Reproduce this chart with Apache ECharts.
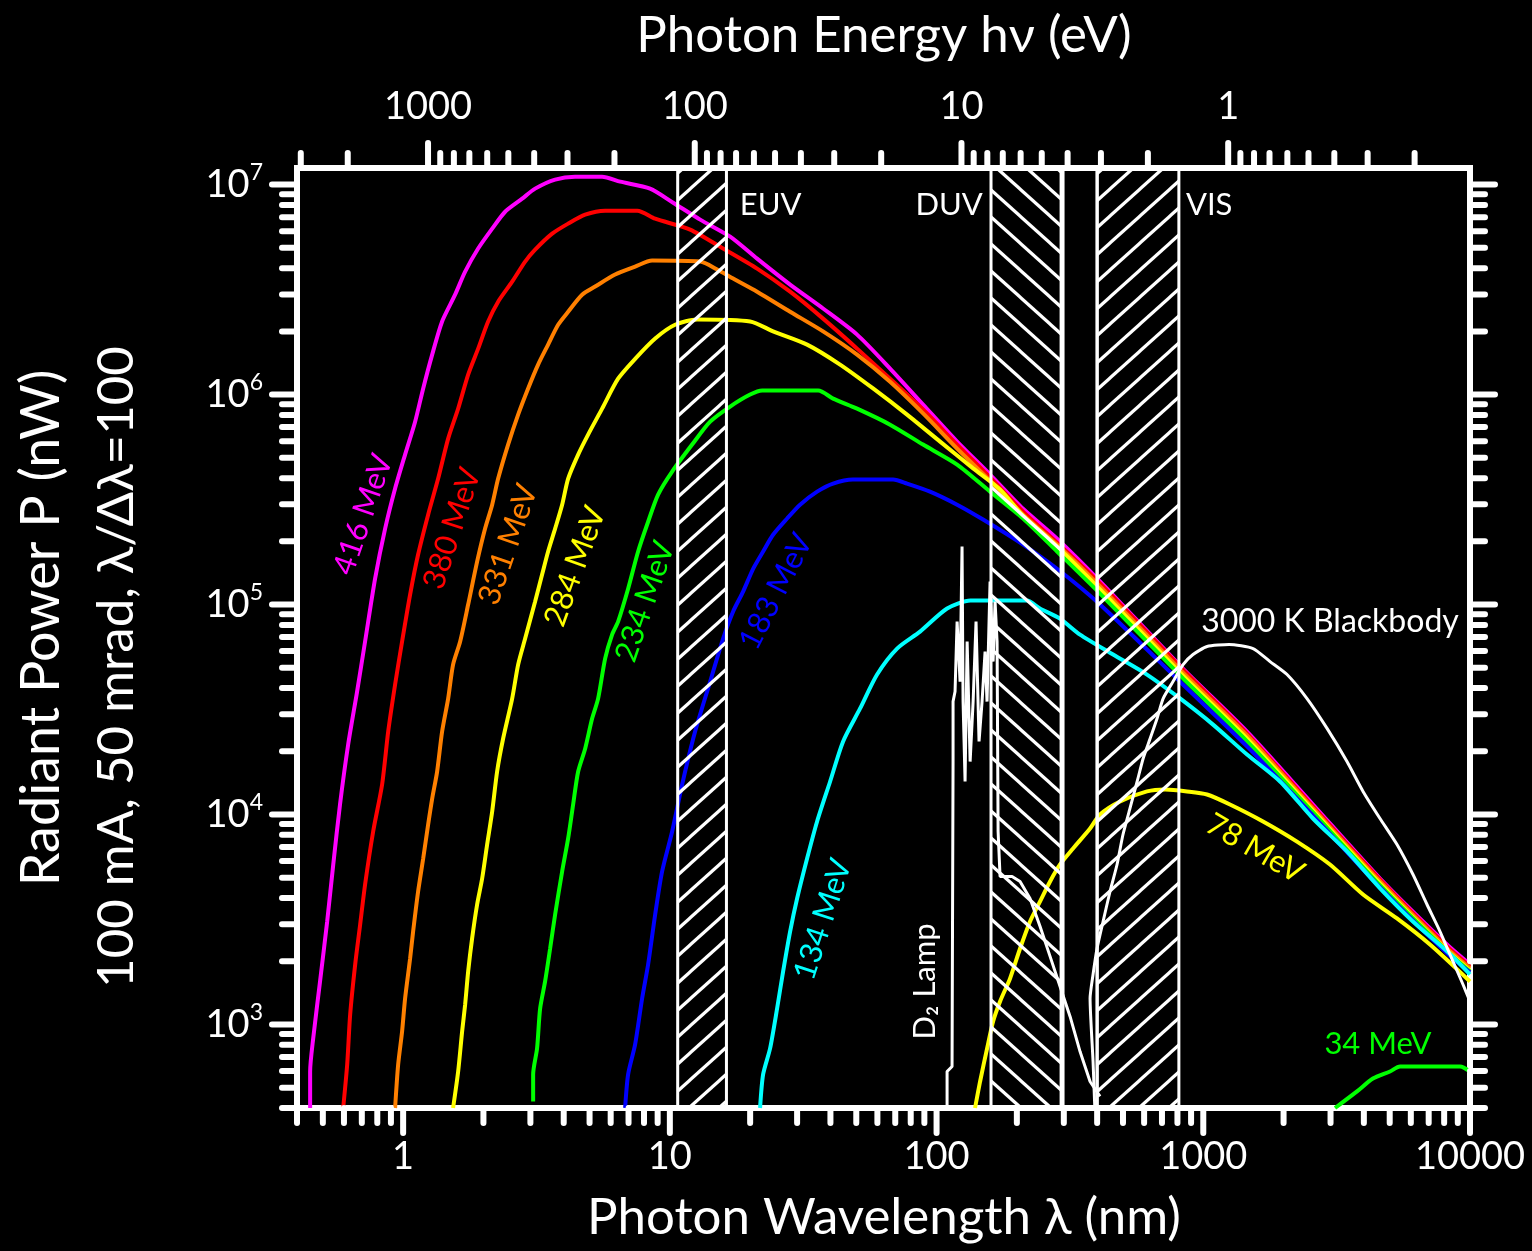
<!DOCTYPE html>
<html>
<head>
<meta charset="utf-8">
<script src="https://cdn.jsdelivr.net/npm/echarts@6/dist/echarts.min.js"></script>
<style>
html,body{margin:0;padding:0;background:#000;}
#c{width:1532px;height:1251px;}
</style>
</head>
<body>
<div id="c"></div>
<script>
// ---------- axis ranges ----------
const X_MIN = 0.4, X_MAX = 10000;          // photon wavelength (nm)
const Y_MIN = 400, Y_MAX = 1.2e7;          // radiant power (nW)
const HC = 1239.84;                         // eV*nm
const E_MIN = HC / X_MAX, E_MAX = HC / X_MIN;

// ---------- data: [wavelength nm, power nW] ----------
const mev416 = [[0.448,400],[0.448,597],[0.460,858],[0.488,1600],[0.519,3090],[0.547,5780],[0.580,11200],[0.622,21500],[0.672,38500],[0.720,66700],[0.785,133000],[0.856,230000],[0.933,357000],[1.017,518000],[1.109,743000],[1.189,1.07e6],[1.285,1.55e6],[1.400,2.23e6],[1.566,2.99e6],[1.708,3.85e6],[1.911,4.96e6],[2.157,6.17e6],[2.412,7.43e6],[2.794,8.57e6],[3.125,9.57e6],[3.714,1.057e7],[4.41,1.09e7],[5.57,1.09e7],[6.51,1.033e7],[8.43,9.57e6],[10.29,8.2e6],[12.99,6.81e6],[16.83,5.65e6],[21.24,4.44e6],[28.24,3.34e6],[37.54,2.57e6],[50.35,1.93e6],[66.95,1.33e6],[89.0,8.96e5],[119.4,5.97e5],[158.7,4.16e5],[211,2.86e5],[283,2.06e5],[410,1.29e5],[839,4.95e4],[1459,2.48e4],[2578,1.116e4],[4600,4954],[8200,2403],[10000,1931]];
const mev380 = [[0.596,400],[0.617,645],[0.633,1116],[0.661,1931],[0.690,2993],[0.720,4640],[0.772,8300],[0.834,13900],[0.879,24840],[0.933,41600],[0.991,66700],[1.062,111600],[1.138,173000],[1.241,268000],[1.353,398000],[1.475,617000],[1.608,857000],[1.753,1.245e6],[1.911,1.655e6],[2.083,2.23e6],[2.271,2.77e6],[2.563,3.45e6],[2.867,4.30e6],[3.125,4.90e6],[3.620,5.84e6],[4.156,6.52e6],[4.813,7.19e6],[5.72,7.51e6],[7.55,7.51e6],[8.81,6.88e6],[11.91,6.11e6],[15.84,4.96e6],[21.24,3.98e6],[28.24,3.09e6],[37.54,2.30e6],[50.35,1.655e6],[66.95,1.19e6],[89.0,8.49e5],[119.4,5.78e5],[158.7,4.03e5],[211,2.77e5],[283,1.97e5],[410,1.26e5],[839,4.90e4],[1459,2.43e4],[2578,1.09e4],[4600,4898],[8200,2350],[10000,1888]];
const mev331 = [[0.933,400],[0.958,645],[0.991,926],[1.017,1330],[1.062,2061],[1.090,2771],[1.138,4298],[1.189,6170],[1.241,8957],[1.285,11900],[1.341,16000],[1.400,24840],[1.475,35650],[1.539,51760],[1.636,66700],[1.753,1.0e5],[1.894,1.60e5],[2.029,2.30e5],[2.157,2.99e5],[2.271,3.98e5],[2.475,5.78e5],[2.699,8.03e5],[2.942,1.07e6],[3.207,1.39e6],[3.496,1.73e6],[3.812,2.15e6],[4.156,2.48e6],[4.688,2.99e6],[5.246,3.27e6],[6.233,3.73e6],[7.41,4.07e6],[8.58,4.35e6],[12.99,4.30e6],[15.04,3.94e6],[17.27,3.57e6],[21.24,3.09e6],[28.24,2.48e6],[37.54,2.0e6],[50.35,1.55e6],[66.95,1.15e6],[89.0,8.13e5],[119.4,5.53e5],[158.7,3.89e5],[211,2.68e5],[283,1.93e5],[410,1.22e5],[839,4.74e4],[1459,2.38e4],[2578,1.069e4],[4600,4796],[8200,2300],[10000,1849]];
const mev284 = [[1.539,400],[1.608,597],[1.664,926],[1.708,1245],[1.753,1786],[1.814,2570],[1.894,3727],[1.978,4954],[2.065,7195],[2.157,10330],[2.251,16030],[2.371,23010],[2.563,35650],[2.699,51760],[2.867,68870],[3.125,1.033e5],[3.319,1.39e5],[3.496,1.79e5],[3.714,2.30e5],[3.946,2.99e5],[4.156,3.98e5],[4.531,5.18e5],[4.938,6.45e5],[5.572,8.57e5],[6.397,1.19e6],[7.41,1.48e6],[8.81,1.85e6],[10.46,2.15e6],[12.66,2.28e6],[20.0,2.23e6],[24.38,2.0e6],[32.70,1.73e6],[43.47,1.39e6],[57.8,1.07e6],[77.5,8.03e5],[103.1,5.97e5],[137.1,4.45e5],[173.0,3.53e5],[211,2.65e5],[283,1.89e5],[410,1.18e5],[839,4.59e4],[1459,2.30e4],[2578,1.045e4],[4600,4690],[8200,2250],[10000,1807]];
const mev234 = [[3.072,430],[3.072,578],[3.178,769],[3.263,1191],[3.406,1603],[3.557,2300],[3.714,3341],[3.946,5354],[4.156,7690],[4.339,11160],[4.531,16030],[4.813,20590],[5.111,28630],[5.383,35650],[5.719,55300],[6.074,71950],[6.397,82950],[6.975,1.19e5],[7.603,1.79e5],[8.289,2.48e5],[9.036,3.34e5],[10.20,4.30e5],[12.12,5.78e5],[14.16,7.43e5],[16.83,8.77e5],[20.0,1.0e6],[22.2,1.045e6],[36.0,1.045e6],[40.93,9.57e5],[50.35,8.57e5],[66.95,7.19e5],[89.0,5.78e5],[119.4,4.64e5],[158.7,3.45e5],[211,2.57e5],[283,1.79e5],[410,1.128e5],[839,4.45e4],[1459,2.23e4],[2578,1.023e4],[4600,4590],[8200,2230],[10000,1786]];
const mev183 = [[6.797,400],[6.975,578],[7.41,803],[7.870,1330],[8.289,1931],[8.81,3341],[9.354,5354],[10.20,8300],[11.12,13900],[12.4,24500],[14.16,42950],[15.84,68870],[17.27,92680],[18.82,1.153e5],[20.52,1.48e5],[22.37,1.79e5],[24.38,2.15e5],[27.52,2.57e5],[30.78,2.99e5],[35.65,3.45e5],[40.93,3.77e5],[48.6,3.94e5],[68.7,3.94e5],[77.5,3.77e5],[94.5,3.45e5],[119.4,2.99e5],[149.4,2.54e5],[211,1.93e5],[283,1.48e5],[410,1.0e5],[839,4.16e4],[1459,2.11e4],[2578,9890],[4600,4490],[8200,2180],[10000,1770]];
const mev134 = [[21.79,400],[22.37,578],[23.76,769],[25.24,1191],[26.58,1786],[28.24,2771],[30.00,3981],[32.70,6170],[35.65,9265],[39.89,14360],[44.63,22290],[51.68,31990],[59.84,46420],[71.1,61700],[86.7,74300],[109.5,95700],[134,1.045e5],[218,1.045e5],[244,9.57e4],[290,8.57e4],[345,7.19e4],[459,5.78e4],[615,4.64e4],[818,3.57e4],[1088,2.68e4],[1459,1.93e4],[1940,1.436e4],[2578,9570],[3457,6670],[4600,4450],[6110,3093],[8200,2230],[10000,1730]];
const mev78 = [[139.4,400],[145.6,535],[154.7,769],[162.9,1033],[173.0,1287],[188.6,1656],[205.6,2300],[224.1,3093],[244.4,3853],[266.4,4796],[290.4,5780],[324.9,6887],[376.3,8570],[410,10000],[487.5,11530],[615,12880],[719,13160],[869,12880],[1033,12450],[1259,11160],[1675,9265],[2245,7430],[2986,5780],[3972,4159],[5324,3199],[7080,2403],[10000,1603]];
const mev34 = [[3119,400],[3770,480],[4325,553],[5010,597],[5465,631],[9180,631],[10000,597]];
const d2Lamp = [[109.5,400],[109.5,597],[114.3,631],[115.3,17870],[115.3,34500],[117.3,38500],[119.4,82950],[122.5,42950],[124.6,188800],[125.7,34500],[127.9,14360],[130.2,66700],[133.6,17870],[137.1,34500],[140.6,82950],[144.3,22290],[148.1,34500],[152.0,59700],[154.6,34500],[158.7,128800],[162.9,53500],[165.7,103300],[168.6,66700],[170.1,8300],[173.0,5070],[191.9,5070],[205.6,4800],[224.1,3981],[244.4,2930],[266.4,2110],[290.4,1517],[316.6,1092],[345.1,743],[376.3,535],[410,454]];
const blackbody3000K = [[392,400],[386.1,667],[376.3,1330],[386.1,1730],[399.6,2300],[421,3093],[447,4298],[475,5780],[500,8030],[531,10690],[565,14360],[595,18490],[632,23010],[671,28630],[707,35650],[770,42950],[840,51760],[915,57800],[1033,63100],[1249,64520],[1537,61700],[1780,53500],[2061,46420],[2449,35650],[2911,25700],[3458,17870],[3972,12880],[4598,9570],[5325,7195],[6113,5180],[6900,3727],[7720,2771],[8637,1995],[9414,1550],[10000,1287]];

// hatched wavelength bands: [from nm, to nm, hatch]
const bands = [[10.7, 16.3, '/'], [160, 293, '\\'], [298, 400, 'none'], [400, 810, '/']];
const bandLabels = [['EUV', 18.3, 'left'], ['DUV', 149, 'right'], ['VIS', 861, 'left']];

const curves = [
  {name:'416 MeV', data: mev416, color:'#ff00ff', label:[0.708, 2.68e5], rot:71},
  {name:'380 MeV', data: mev380, color:'#ff0000', label:[1.527, 2.30e5], rot:72},
  {name:'331 MeV', data: mev331, color:'#ff8000', label:[2.475, 1.93e5], rot:71},
  {name:'284 MeV', data: mev284, color:'#ffff00', label:[4.414, 1.52e5], rot:70},
  {name:'234 MeV', data: mev234, color:'#00ff00', label:[8.075, 1.033e5], rot:71},
  {name:'183 MeV', data: mev183, color:'#0000ff', label:[25.0, 1.153e5], rot:63},
  {name:'134 MeV', data: mev134, color:'#00ffff', label:[37.5, 3162], rot:72},
  {name:'78 MeV',  data: mev78,  color:'#ffff00', label:[1563, 6887], rot:-30},
  {name:'34 MeV',  data: mev34,  color:'#00ff00', label:[4519, 803], rot:0}
];
const whiteCurves = [
  {name:'D\u2082 Lamp', data: d2Lamp, label:[90.6, 1603], rot:90, smooth:false},
  {name:'3000 K Blackbody', data: blackbody3000K, label:[2986, 82950], rot:0, smooth:0.2}
];

// ---------- helpers ----------
const FONT = 'Lato, "Open Sans", sans-serif';
function isDecade(v){ const l = Math.log10(v); return Math.abs(l - Math.round(l)) < 1e-6; }
function logTicks(lo, hi){
  const out = [];
  for (let e = -2; e <= 8; e++) for (let m = 1; m < 10; m++) {
    const v = m * Math.pow(10, e);
    if (v >= lo * 0.999 && v <= hi * 1.001) out.push([v, m === 1 ? 1 : 0]);
  }
  return out;
}
function hatchPattern(dir){
  const w = 30, h = 27;
  const c = document.createElement('canvas'); c.width = w; c.height = h;
  const g = c.getContext('2d');
  g.strokeStyle = '#fff'; g.lineWidth = 3.2; g.lineCap = 'butt';
  const s = h / w;
  for (const k of [-1, 0, 1]) {
    g.beginPath();
    if (dir === '/') { g.moveTo(-3, (k + 1) * h + 3 * s); g.lineTo(w + 3, k * h - 3 * s); }
    else { g.moveTo(-3, k * h - 3 * s); g.lineTo(w + 3, (k + 1) * h + 3 * s); }
    g.stroke();
  }
  return {image: c, repeat: 'repeat'};
}
const patterns = {'/': hatchPattern('/'), '\\': hatchPattern('\\')};

function tickLine(x1, y1, x2, y2){
  return {type:'line', shape:{x1, y1, x2, y2}, style:{stroke:'#fff', lineWidth:6, lineCap:'round'}};
}
const MAJ = 22, MIN = 12;

const chart = echarts.init(document.getElementById('c'), null, {renderer:'canvas'});

const series = [];
// curves
curves.forEach(c => series.push({
  type:'line', name:c.name, data:c.data, showSymbol:false, z:3, smooth:0.25,
  lineStyle:{color:c.color, width:4}, itemStyle:{color:c.color}, animation:false
}));
whiteCurves.forEach(c => series.push({
  type:'line', name:c.name, data:c.data, showSymbol:false, z:3, smooth:c.smooth,
  lineStyle:{color:'#fff', width:3}, itemStyle:{color:'#fff'}, animation:false
}));
// bands
series.push({
  type:'custom', z:6, clip:false, animation:false,
  data: bands.map(b => [b[0], b[1], b[2]]),
  encode:{x:[0,1]},
  renderItem(params, api){
    const b = bands[params.dataIndex];
    const p1 = api.coord([b[0], Y_MAX]);
    const p2 = api.coord([b[1], Y_MIN]);
    return {type:'rect', shape:{x:p1[0], y:p1[1], width:p2[0]-p1[0], height:p2[1]-p1[1]},
      style:{fill: b[2] === 'none' ? 'transparent' : patterns[b[2]], stroke:'#fff', lineWidth:3}};
  }
});
// ticks
const bottomTicks = logTicks(X_MIN, X_MAX);
const topTicks = logTicks(E_MIN, E_MAX);
const sideTicks = logTicks(Y_MIN, Y_MAX);
series.push({
  type:'custom', z:10, clip:false, animation:false, xAxisIndex:0, yAxisIndex:0,
  data: bottomTicks.map(t => [t[0], Y_MIN, t[1]]),
  renderItem(params, api){
    const p = api.coord([api.value(0), Y_MIN]);
    return tickLine(p[0], p[1], p[0], p[1] + (api.value(2) ? MAJ : MIN) + 3);
  }
});
series.push({
  type:'custom', z:10, clip:false, animation:false, xAxisIndex:1, yAxisIndex:0,
  data: topTicks.map(t => [t[0], Y_MAX, t[1]]),
  renderItem(params, api){
    const p = api.coord([api.value(0), Y_MAX]);
    return tickLine(p[0], p[1], p[0], p[1] - (api.value(2) ? MAJ : MIN) - 3);
  }
});
series.push({
  type:'custom', z:10, clip:false, animation:false, xAxisIndex:0, yAxisIndex:0,
  data: sideTicks.map(t => [X_MIN, t[0], t[1]]),
  renderItem(params, api){
    const v = api.value(1), len = (api.value(2) ? MAJ : MIN) + 3;
    const pl = api.coord([X_MIN, v]);
    const pr = api.coord([X_MAX, v]);
    return {type:'group', children:[tickLine(pl[0], pl[1], pl[0] - len, pl[1]), tickLine(pr[0], pr[1], pr[0] + len, pr[1])]};
  }
});

const labelStyle = {color:'#fff', fontSize:38, fontFamily:FONT};
chart.setOption({
  backgroundColor:'#000',
  animation:false,
  grid:{left:297, right:62, top:168, bottom:143, show:true, borderColor:'#fff', borderWidth:6, backgroundColor:'transparent'},
  xAxis:[
    {type:'log', logBase:10, min:X_MIN, max:X_MAX, position:'bottom',
     axisLine:{show:false}, axisTick:{show:false}, splitLine:{show:false}, minorTick:{show:false},
     axisLabel:Object.assign({margin:30, showMinLabel:true, showMaxLabel:true, formatter:v => isDecade(v) ? String(Math.round(v)) : ''}, labelStyle)},
    {type:'log', logBase:10, min:E_MIN, max:E_MAX, position:'top', inverse:true,
     axisLine:{show:false}, axisTick:{show:false}, splitLine:{show:false},
     axisLabel:Object.assign({margin:42, formatter:v => isDecade(v) ? String(Math.round(v)) : ''}, labelStyle)}
  ],
  yAxis:[
    {type:'log', logBase:10, min:Y_MIN, max:Y_MAX,
     axisLine:{show:false}, axisTick:{show:false}, splitLine:{show:false},
     axisLabel:{margin:34, color:'#fff', fontFamily:FONT,
       formatter:v => isDecade(v) ? '{b|10}{s|' + Math.round(Math.log10(v)) + '}' : '',
       rich:{b:{fontSize:38, color:'#fff', fontFamily:FONT}, s:{fontSize:23, color:'#fff', fontFamily:FONT, padding:[0,0,24,0]}}}}
  ],
  series
});

// text labels anchored to data coordinates
const graphics = [];
function txt(text, x, y, opts){
  return Object.assign({type:'text', x, y, z:20, style:Object.assign({text, fill:'#fff', font:'31px ' + FONT, align:'center', verticalAlign:'middle'}, opts && opts.style || {})}, opts && opts.el || {});
}
curves.concat(whiteCurves).forEach(c => {
  const p = chart.convertToPixel({xAxisIndex:0, yAxisIndex:0}, c.label);
  const font = (c.name === '3000 K Blackbody' ? '32px ' : '31px ') + FONT;
  graphics.push(txt(c.name, p[0], p[1], {style:{fill:c.color || '#fff', font}, el:{rotation:c.rot * Math.PI / 180}}));
});
bandLabels.forEach(b => {
  const p = chart.convertToPixel({xAxisIndex:0, yAxisIndex:0}, [b[1], 8.03e6]);
  graphics.push(txt(b[0], p[0], p[1], {style:{align:b[2]}}));
});
// axis titles
graphics.push(txt('Photon Energy h\u03bd (eV)', 884, 36, {style:{font:'51px ' + FONT}}));
graphics.push(txt('Photon Wavelength \u03bb (nm)', 884, 1218, {style:{font:'51px ' + FONT}}));
graphics.push(txt('Radiant Power P (nW)', 42, 628, {style:{font:'54px ' + FONT}, el:{rotation:Math.PI / 2}}));
graphics.push(txt('100 mA, 50 mrad, \u03bb/\u0394\u03bb=100', 117, 667, {style:{font:'51px ' + FONT}, el:{rotation:Math.PI / 2}}));
chart.setOption({graphic:graphics});
</script>
</body>
</html>
